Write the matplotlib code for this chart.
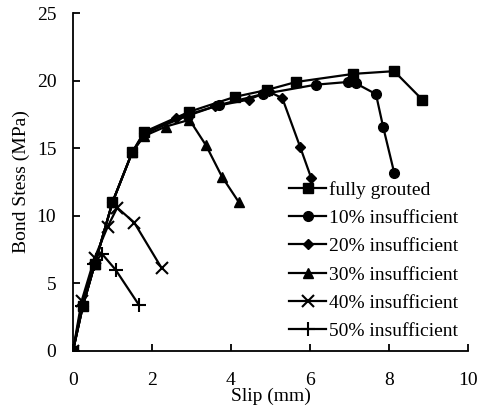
import matplotlib.pyplot as plt

plt.rcParams['font.family'] = ['Liberation Serif', 'DejaVu Serif']

# slip (mm) / bond stress (MPa) for each grouting case
x_full = [0, 0.25, 0.55, 1.0, 1.5, 1.8, 2.95, 4.1, 4.9, 5.65, 7.1, 8.13, 8.84]
y_full = [0, 3.3, 6.4, 11.0, 14.7, 16.2, 17.7, 18.8, 19.3, 19.9, 20.5, 20.7, 18.6]

x_10 = [0, 0.25, 0.55, 1.0, 1.5, 1.8, 2.9, 3.7, 4.8, 6.15, 6.96, 7.16, 7.67, 7.85, 8.13]
y_10 = [0, 3.3, 6.4, 11.0, 14.7, 16.1, 17.4, 18.2, 19.0, 19.7, 19.9, 19.8, 19.0, 16.6, 13.2]

x_20 = [0, 0.25, 0.55, 1.0, 1.5, 1.8, 2.6, 3.6, 4.45, 4.95, 5.3, 5.75, 6.03]
y_20 = [0, 3.3, 6.4, 11.0, 14.7, 16.0, 17.2, 18.1, 18.6, 19.2, 18.7, 15.1, 12.8]

x_30 = [0, 0.25, 0.55, 1.0, 1.5, 1.8, 2.35, 2.95, 3.37, 3.77, 4.2]
y_30 = [0, 3.4, 6.4, 11.0, 14.7, 15.9, 16.6, 17.1, 15.2, 12.9, 11.0]

x_40 = [0, 0.22, 0.55, 0.88, 1.12, 1.55, 2.25]
y_40 = [0, 3.7, 6.9, 9.2, 10.6, 9.5, 6.1]

x_50 = [0, 0.22, 0.53, 0.73, 1.08, 1.67]
y_50 = [0, 3.3, 6.4, 7.2, 6.0, 3.4]

fig = plt.figure(figsize=(4.8, 4.08), dpi=100)
ax = fig.add_axes([0.152, 0.140, 0.823, 0.828])

lw = 1.6
ax.plot(x_full, y_full, '-s', color='black', lw=lw, ms=7, label='fully grouted')
ax.plot(x_10, y_10, '-o', color='black', lw=lw, ms=7, label='10% insufficient')
ax.plot(x_20, y_20, '-D', color='black', lw=lw, ms=5, label='20% insufficient')
ax.plot(x_30, y_30, '-^', color='black', lw=lw, ms=7.5, label='30% insufficient')
ax.plot(x_40, y_40, '-x', color='black', lw=lw, ms=9, mew=1.5, label='40% insufficient')
ax.plot(x_50, y_50, '-+', color='black', lw=lw, ms=10, mew=1.5, label='50% insufficient')

ax.set_xlim(0, 10)
ax.set_ylim(0, 25)
ax.set_xticks(range(0, 11, 2))
ax.set_yticks(range(0, 26, 5))
ax.spines['top'].set_visible(False)
ax.spines['right'].set_visible(False)
ax.spines['left'].set_linewidth(1.3)
ax.spines['bottom'].set_linewidth(1.3)
ax.tick_params(direction='in', length=5, width=1.3, labelsize=14)
ax.tick_params(axis='x', pad=15)
ax.tick_params(axis='y', pad=12)

ax.set_xlabel('Slip (mm)', fontsize=14, labelpad=-1)
ax.set_ylabel('Bond Stess (MPa)', fontsize=14, labelpad=5)

ax.legend(loc='lower right', bbox_to_anchor=(1.02, -0.02), frameon=False,
          fontsize=14, handlelength=1.9, handletextpad=0.15,
          labelspacing=0.55)

fig.savefig('out.png', dpi=100)
